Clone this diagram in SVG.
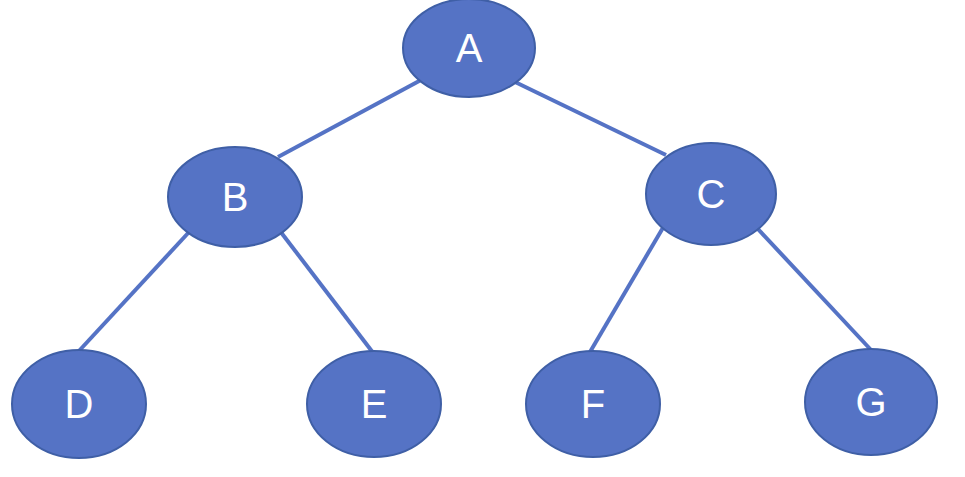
<svg xmlns="http://www.w3.org/2000/svg" width="965" height="477" viewBox="0 0 965 477">
<style>
.n{fill:#5573C5;stroke:#3F5FA6;stroke-width:2}
.t{fill:#fff;font-family:"Liberation Sans",Arial,sans-serif;font-size:40px;text-anchor:middle;dominant-baseline:central}
.e{stroke:#5573C5;stroke-width:4;fill:none}
</style>
<rect width="965" height="477" fill="#fff"/>
<g id="connectors">
<line class="e" x1="421" y1="80" x2="278" y2="157"/>
<line class="e" x1="513" y1="81" x2="666" y2="155"/>
<line class="e" x1="190" y1="231" x2="78" y2="352"/>
<line class="e" x1="280" y1="231" x2="374" y2="354"/>
<line class="e" x1="664" y1="226" x2="590" y2="352"/>
<line class="e" x1="757" y1="228" x2="872" y2="351"/>
</g>
<g id="A"><ellipse class="n" cx="469" cy="48" rx="66" ry="49"/><text class="t" x="469" y="48">A</text></g>
<g id="B"><ellipse class="n" cx="235" cy="197" rx="67" ry="50"/><text class="t" x="235" y="197">B</text></g>
<g id="C"><ellipse class="n" cx="711" cy="194" rx="65" ry="51"/><text class="t" x="711" y="194">C</text></g>
<g id="D"><ellipse class="n" cx="79" cy="404" rx="67" ry="54"/><text class="t" x="79" y="404">D</text></g>
<g id="E"><ellipse class="n" cx="374" cy="404" rx="67" ry="53"/><text class="t" x="374" y="404">E</text></g>
<g id="F"><ellipse class="n" cx="593" cy="404" rx="67" ry="53"/><text class="t" x="593" y="404">F</text></g>
<g id="G"><ellipse class="n" cx="871" cy="402" rx="66" ry="53"/><text class="t" x="871" y="402">G</text></g>
</svg>
